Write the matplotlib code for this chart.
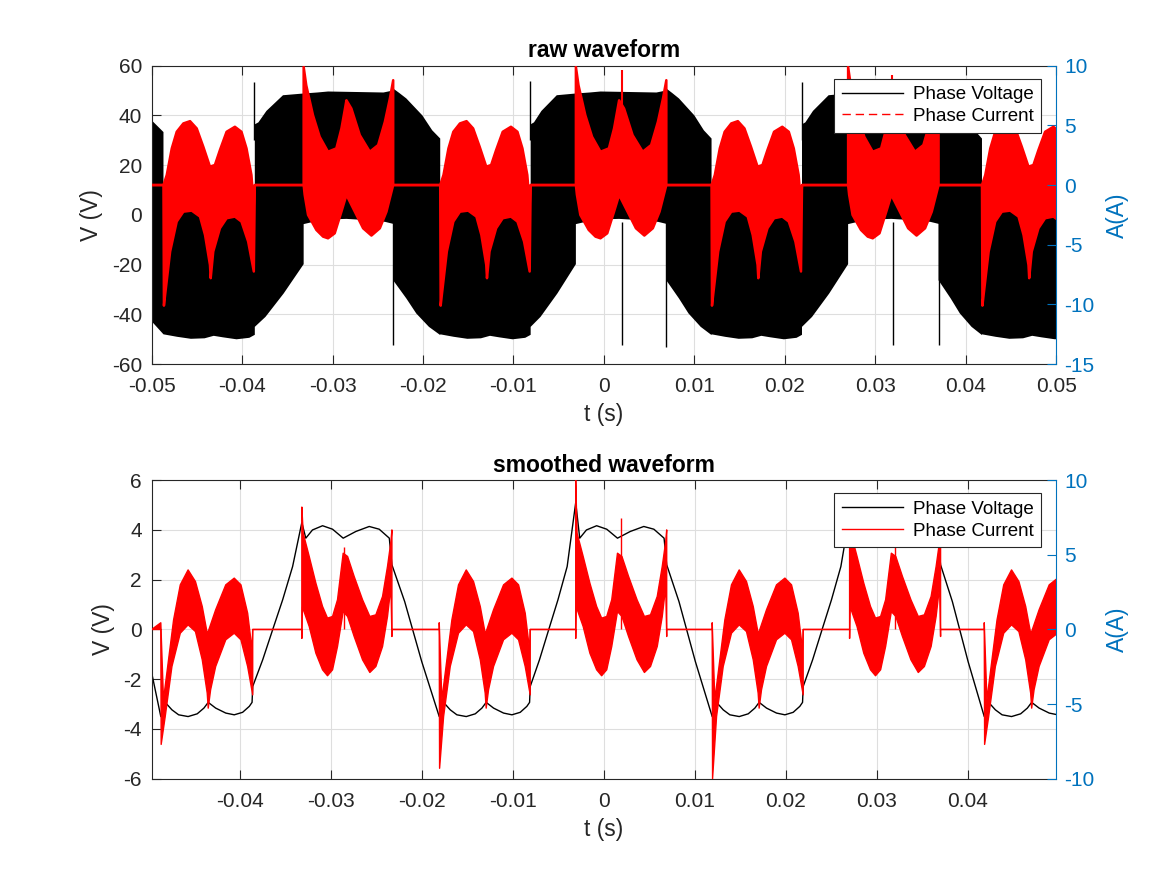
import numpy as np
import matplotlib
matplotlib.use("Agg")
import matplotlib.pyplot as plt
from matplotlib.lines import Line2D

plt.rcParams['font.family'] = ['Liberation Sans', 'DejaVu Sans']
plt.rcParams['axes.unicode_minus'] = False

# ---------------- segment timing (s) ----------------
H_START = [-0.0487, -0.0181, 0.0119, 0.0418]   # current "two hump" blocks
H_END = [-0.0386, -0.0081, 0.0219, 0.0519]
W_START = [-0.0332, -0.0031, 0.0270]           # current "W" blocks
W_END = [-0.0233, 0.0069, 0.0370]

# ---------------- raw waveform (top) envelopes, fraction of segment ----------------
TOP_EDGE_T = [-0.0500, -0.0487]
TOP_EDGE_BLK_UP = [38.0, 33.3]
TOP_EDGE_BLK_LO = [-42.8, -48.0]

TOP_H_BLK_UP_F = [0, .018, .073, .145, .218, .309, .400, .455, .509, .517, .545, .618, .691, .782, .854, .927, .989, 1.0]
TOP_H_BLK_UP_V = [-33.0, -29.2, -11.7, 0.3, 4.3, 4.7, 2.3, -5.1, -17.1, -22.4, -11.7, -2.4, 1.7, 2.3, 0.3, -7.7, -19.8, -22.0]
TOP_H_BLK_LO_F = [0, .15, .30, .45, .55, .65, .80, .94, 1.0]
TOP_H_BLK_LO_V = [-48.0, -49.0, -49.8, -49.6, -48.6, -49.2, -50.0, -49.4, -48.2]
TOP_RISE_BLK_UP_F = [0, .074, .238, .577, 1.0]
TOP_RISE_BLK_UP_V = [36.4, 37.2, 41.8, 48.1, 48.8]
TOP_RISE_BLK_LO_F = [0, .218, .590, 1.0]
TOP_RISE_BLK_LO_V = [-45.0, -41.0, -31.6, -19.8]
TOP_W_BLK_UP_F = [0, .152, .273, .587, .891, .972, 1.0]
TOP_W_BLK_UP_V = [48.8, 49.2, 49.6, 49.4, 49.2, 49.8, 50.9]
TOP_W_BLK_LO_F = [0, .142, .30, .478, .75, .91, 1.0]
TOP_W_BLK_LO_V = [-3.7, -2.5, -1.8, -1.6, -2.2, -2.8, -3.6]
TOP_FALL_BLK_UP_F = [0, .13, .28, .62, .83, 1.0]
TOP_FALL_BLK_UP_V = [50.8, 49.0, 46.8, 40.0, 34.0, 30.7]
TOP_FALL_BLK_LO_F = [0, .28, .49, .76, 1.0]
TOP_FALL_BLK_LO_V = [-26.3, -33.6, -39.6, -45.0, -48.3]

TOP_H_RED_UP_F = [0, .036, .091, .145, .218, .291, .364, .436, .509, .563, .618, .691, .782, .854, .909, .963, .989, 1.0]
TOP_H_RED_UP_A = [0.0, 0.84, 3.07, 4.46, 5.16, 5.35, 4.74, 3.21, 1.54, 1.68, 2.93, 4.46, 4.88, 4.46, 3.07, 0.84, -1.67, 0.0]
TOP_H_RED_LO_F = [0, .005, .018, .073, .145, .218, .309, .400, .455, .509, .517, .545, .618, .691, .782, .854, .927, .989, 1.0]
TOP_H_RED_LO_A = [0.0, -10.1, -9.2, -5.57, -3.06, -2.23, -2.14, -2.64, -4.18, -6.69, -7.8, -5.57, -3.62, -2.78, -2.64, -3.06, -4.73, -7.24, 0.0]
TOP_W_RED_UP_F = [0, .029, .104, .179, .272, .365, .422, .478, .533, .627, .739, .832, .907, .963, 1.0]
TOP_W_RED_UP_A = [9.9, 8.36, 5.86, 4.04, 2.79, 3.07, 4.74, 7.1, 6.41, 4.18, 2.79, 3.35, 5.3, 7.25, 8.78]
TOP_W_RED_LO_F = [0, .011, .049, .142, .217, .272, .347, .422, .478, .553, .664, .757, .851, .925, .982, 1.0]
TOP_W_RED_LO_A = [0.0, -0.8, -2.5, -3.76, -4.32, -4.46, -4.04, -2.23, -0.83, -1.95, -3.62, -4.23, -3.62, -2.23, -0.55, 0.0]

TOP_SPIKE_UP_T = [-0.0387, -0.0082, 0.0219]
TOP_SPIKE_UP_V = [53.4, 53.8, 53.4]
TOP_SPIKE_DN_T = [-0.0233, 0.0020, 0.0069, 0.0320, 0.0370]
TOP_SPIKE_DN_V = [-52.3, -52.3, -53.0, -52.3, -52.3]
TOP_W_MID_T = [-0.0285, 0.0020, 0.0318]
TOP_W_MID_A = [7.1, 9.6, 9.2]

# ---------------- smoothed waveform (bottom) ----------------
BOT_EDGE_T = [-0.0497]
BOT_EDGE_V = [-1.75]
BOT_H_BLK_F = [0, .048, .121, .194, .297, .396, .469, .516, .597, .707, .799, .890, .963, .993, 1.0]
BOT_H_BLK_V = [-3.50, -2.93, -3.23, -3.43, -3.50, -3.39, -3.16, -2.93, -3.16, -3.36, -3.43, -3.33, -3.09, -2.93, -2.29]
BOT_RISE_BLK_F = [0, .203, .406, .609, .812]
BOT_RISE_BLK_V = [-2.29, -1.22, -0.01, 1.19, 2.53]
BOT_W_PEAK_V = [4.3, 5.1, 4.6]
BOT_W_BLK_F = [.044, .118, .230, .341, .459, .600, .748, .859, .971, 1.0]
BOT_W_BLK_V = [3.67, 4.0, 4.17, 4.03, 3.67, 3.94, 4.14, 4.03, 3.67, 2.60]
BOT_FALL_BLK_F = [0, .27, .63]
BOT_FALL_BLK_V = [2.60, 1.12, -1.29]

BOT_H_RED_UP_F = [0, .029, .084, .139, .212, .297, .377, .451, .505, .516, .597, .707, .799, .872, .945, .993, 1.0]
BOT_H_RED_UP_A = [0.45, -4.71, -2.03, 0.64, 2.99, 3.99, 3.21, 1.54, -0.25, -0.14, 1.32, 2.99, 3.44, 2.99, 1.09, -1.36, 0.0]
BOT_H_RED_LO_F = [0, .004, .048, .121, .212, .297, .377, .451, .505, .516, .542, .597, .707, .799, .872, .945, 1.0]
BOT_H_RED_LO_A = [0.0, -7.72, -5.83, -2.48, -0.25, 0.31, -0.14, -2.03, -4.26, -5.27, -4.04, -2.48, -0.69, -0.25, -0.69, -2.48, -4.38]
BOT_H_SPIKE_A = [-7.7, -9.3, -10.0, -7.7]
BOT_W_RED_UP_F = [0, .015, .082, .156, .230, .285, .341, .396, .459, .508, .581, .674, .755, .822, .896, .951, .989, 1.0]
BOT_W_RED_UP_A = [8.2, 6.45, 4.89, 3.10, 1.54, 0.76, 0.87, 1.99, 5.11, 4.89, 3.55, 1.99, 0.87, 0.98, 2.21, 4.22, 5.89, 6.67]
BOT_W_SPIKE_A = [8.2, 10.0, 8.2]
BOT_W_RED_LO_F = [0, .007, .082, .156, .230, .285, .341, .396, .459, .508, .581, .674, .755, .822, .896, .951, .989, 1.0]
BOT_W_RED_LO_A = [-0.6, 1.5, 0.2, -1.59, -2.70, -3.10, -2.70, -1.14, 1.20, 0.87, -0.47, -2.03, -2.88, -2.48, -1.14, 0.87, 2.88, -0.47]
BOT_W_MID_T = [-0.0286, 0.0019, 0.0320]
BOT_W_MID_A = [5.55, 7.46, 5.6]

# ---------------- axes / tick texts ----------------
TOP_XTICKS = [-0.05, -0.04, -0.03, -0.02, -0.01, 0, 0.01, 0.02, 0.03, 0.04, 0.05]
TOP_XTICKLABELS = ['-0.05', '-0.04', '-0.03', '-0.02', '-0.01', '0', '0.01', '0.02', '0.03', '0.04', '0.05']
BOT_XTICKS = [-0.04, -0.03, -0.02, -0.01, 0, 0.01, 0.02, 0.03, 0.04]
BOT_XTICKLABELS = ['-0.04', '-0.03', '-0.02', '-0.01', '0', '0.01', '0.02', '0.03', '0.04']
TOP_YL_TICKS = [-60, -40, -20, 0, 20, 40, 60]
TOP_YR_TICKS = [-15, -10, -5, 0, 5, 10]
BOT_YL_TICKS = [-6, -4, -2, 0, 2, 4, 6]
BOT_YR_TICKS = [-10, -5, 0, 5, 10]
LEGEND_LABELS = ['Phase Voltage', 'Phase Current']

AX_COL = '#262626'
BLUE = '#0072BD'
GRID_COL = '#DEDEDE'


def seg(t0, t1, f, v):
    return t0 + (t1 - t0) * np.asarray(f, float), np.asarray(v, float)


def cat(pieces):
    return (np.concatenate([p[0] for p in pieces]),
            np.concatenate([p[1] for p in pieces]))


def chain(edge, hF, hV, riseF, riseV, wF, wV, fallF, fallV):
    pieces = [edge]
    for k in range(4):
        hv = hV(k) if callable(hV) else hV
        pieces.append(seg(H_START[k], H_END[k], hF, hv))
        if k < 3:
            pieces.append(seg(H_END[k], W_START[k], riseF, riseV))
            wv = wV(k) if callable(wV) else wV
            wf = wF(k) if callable(wF) else wF
            pieces.append(seg(W_START[k], W_END[k], wf, wv))
            pieces.append(seg(W_END[k], H_START[k + 1], fallF, fallV))
    return cat(pieces)


FLAT_F = [0, 1]
FLAT_V = [0.0, 0.0]

# top black polygon
tbu, vbu = chain((np.array(TOP_EDGE_T), np.array(TOP_EDGE_BLK_UP)),
                 TOP_H_BLK_UP_F, TOP_H_BLK_UP_V, TOP_RISE_BLK_UP_F, TOP_RISE_BLK_UP_V,
                 TOP_W_BLK_UP_F, TOP_W_BLK_UP_V, TOP_FALL_BLK_UP_F, TOP_FALL_BLK_UP_V)
tbl, vbl = chain((np.array(TOP_EDGE_T), np.array(TOP_EDGE_BLK_LO)),
                 TOP_H_BLK_LO_F, TOP_H_BLK_LO_V, TOP_RISE_BLK_LO_F, TOP_RISE_BLK_LO_V,
                 TOP_W_BLK_LO_F, TOP_W_BLK_LO_V, TOP_FALL_BLK_LO_F, TOP_FALL_BLK_LO_V)
# top red polygon
tru, aru = chain((np.array([-0.05]), np.array([0.0])),
                 TOP_H_RED_UP_F, TOP_H_RED_UP_A, FLAT_F, FLAT_V,
                 TOP_W_RED_UP_F, TOP_W_RED_UP_A, FLAT_F, FLAT_V)
trl, arl = chain((np.array([-0.05]), np.array([0.0])),
                 TOP_H_RED_LO_F, TOP_H_RED_LO_A, FLAT_F, FLAT_V,
                 TOP_W_RED_LO_F, TOP_W_RED_LO_A, FLAT_F, FLAT_V)

# bottom black line
tbb, vbb = chain((np.array(BOT_EDGE_T), np.array(BOT_EDGE_V)),
                 BOT_H_BLK_F, BOT_H_BLK_V, BOT_RISE_BLK_F, BOT_RISE_BLK_V,
                 lambda k: [0] + BOT_W_BLK_F, lambda k: [BOT_W_PEAK_V[k]] + BOT_W_BLK_V,
                 BOT_FALL_BLK_F, BOT_FALL_BLK_V)
# bottom red polygon
bru, baru = chain((np.array([-0.0497]), np.array([0.0])),
                  BOT_H_RED_UP_F, BOT_H_RED_UP_A, FLAT_F, FLAT_V,
                  BOT_W_RED_UP_F, lambda k: [BOT_W_SPIKE_A[k]] + BOT_W_RED_UP_A[1:],
                  FLAT_F, FLAT_V)
brl, barl = chain((np.array([-0.0497]), np.array([0.0])),
                  BOT_H_RED_LO_F, lambda k: [0.0, BOT_H_SPIKE_A[k]] + BOT_H_RED_LO_A[2:],
                  FLAT_F, FLAT_V,
                  BOT_W_RED_LO_F, BOT_W_RED_LO_A, FLAT_F, FLAT_V)

fig = plt.figure(figsize=(11.67, 8.75), dpi=100)
ax1 = fig.add_axes([0.13, 0.5838, 0.775, 0.3412])
ax2 = fig.add_axes([0.13, 0.11, 0.775, 0.3412])


def style(ax, axr, xlim, xt, xtl, ylt, yrt, title):
    ax.set_xlim(*xlim)
    axr.set_xlim(*xlim)
    ax.set_xticks(xt)
    ax.set_xticklabels(xtl)
    ax.set_ylim(ylt[0], ylt[-1])
    ax.set_yticks(ylt)
    ax.set_yticklabels([str(v) for v in ylt])
    axr.set_ylim(yrt[0], yrt[-1])
    axr.set_yticks(yrt)
    axr.set_yticklabels([str(v) for v in yrt])
    ax.set_axisbelow(True)
    ax.grid(True, color=GRID_COL, lw=0.8)
    ax.tick_params(axis='both', direction='in', length=6.5, width=0.8, labelsize=15,
                   colors=AX_COL, top=True, right=False, pad=7)
    ax.tick_params(axis='x', pad=9.5)
    axr.tick_params(axis='y', direction='in', length=6.5, width=0.8, labelsize=15,
                    colors=BLUE, pad=6)
    for s in ['left', 'top', 'bottom']:
        ax.spines[s].set_color(AX_COL)
        axr.spines[s].set_visible(False)
        ax.spines[s].set_linewidth(0.8)
    ax.spines['right'].set_visible(False)
    axr.spines['right'].set_color(BLUE)
    axr.spines['right'].set_linewidth(0.8)
    ax.set_title(title, fontsize=16.5, fontweight='bold', color='black', pad=6)
    ax.set_xlabel('t (s)', fontsize=16.5, color=AX_COL, labelpad=5)
    ax.set_ylabel('V (V)', fontsize=16.5, color=AX_COL, labelpad=6)
    axr.set_ylabel('A(A)', fontsize=16.5, color=BLUE, labelpad=8)


# ---- top panel ----
ax1r = ax1.twinx()
ax1.fill(np.r_[tbu, tbl[::-1]], np.r_[vbu, vbl[::-1]], color='black', lw=0)
ax1.vlines(TOP_SPIKE_UP_T, 30, TOP_SPIKE_UP_V, color='black', lw=1)
ax1.vlines(TOP_SPIKE_DN_T, -3, TOP_SPIKE_DN_V, color='black', lw=1)
ax1r.fill(np.r_[tru, trl[::-1]], np.r_[aru, arl[::-1]], color='#FF0000', lw=0)
ax1r.plot(tru, aru, color='#FF0000', lw=1.8)
ax1r.plot(trl, arl, color='#FF0000', lw=1.8)
ax1r.vlines(TOP_W_MID_T, 0, TOP_W_MID_A, color='#FF0000', lw=1.5)
style(ax1, ax1r, (-0.05, 0.05), TOP_XTICKS, TOP_XTICKLABELS, TOP_YL_TICKS, TOP_YR_TICKS,
      'raw waveform')
h1 = [Line2D([], [], color='black', lw=1),
      Line2D([], [], color='#FF0000', lw=1, ls=(0, (6, 3.5)))]

# ---- bottom panel ----
ax2r = ax2.twinx()
ax2.plot(tbb, vbb, color='black', lw=1)
ax2r.fill(np.r_[bru, brl[::-1]], np.r_[baru, barl[::-1]], color='#FF0000', lw=0)
ax2r.plot(bru, baru, color='#FF0000', lw=1)
ax2r.plot(brl, barl, color='#FF0000', lw=1)
ax2r.vlines(BOT_W_MID_T, 0, BOT_W_MID_A, color='#FF0000', lw=1)
style(ax2, ax2r, (-0.0497, 0.0497), BOT_XTICKS, BOT_XTICKLABELS, BOT_YL_TICKS, BOT_YR_TICKS,
      'smoothed waveform')
h2 = [Line2D([], [], color='black', lw=1), Line2D([], [], color='#FF0000', lw=1)]

for axr, hh in [(ax1r, h1), (ax2r, h2)]:
    leg = axr.legend(hh, LEGEND_LABELS, loc='upper right', bbox_to_anchor=(0.9834, 0.9565),
                     borderaxespad=0, fontsize=13.5, frameon=True, fancybox=False,
                     framealpha=1, edgecolor=AX_COL, handlelength=3.3, handletextpad=0.5,
                     borderpad=0.4, labelspacing=0.25)
    leg.get_frame().set_linewidth(0.8)
    leg.set_zorder(10)

fig.savefig('out.png', dpi=100)
